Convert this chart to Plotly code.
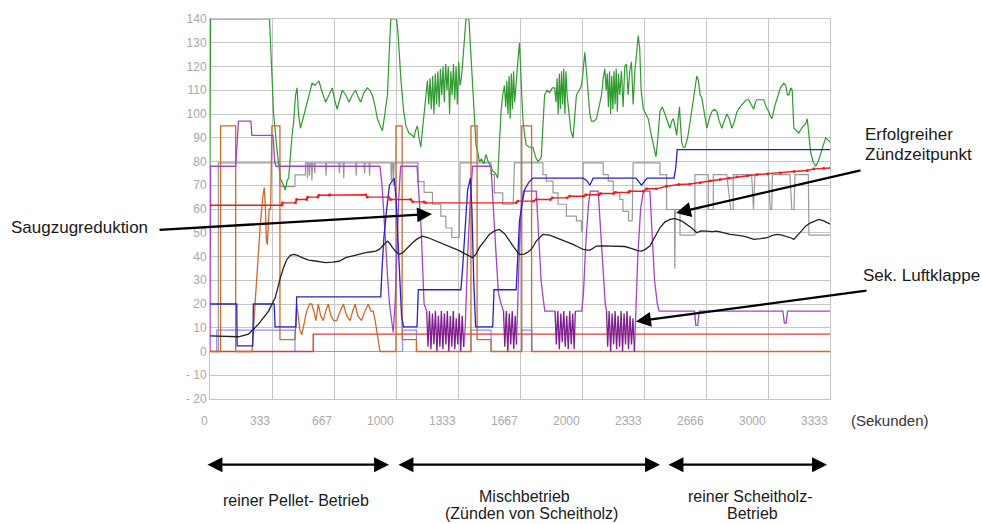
import plotly.graph_objects as go

# ---------------- data (seconds, value) ----------------
x_tick_vals = [0, 333.33, 666.67, 1000, 1333.33, 1666.67, 2000, 2333.33, 2666.67, 3000, 3333.33]
x_tick_text = ["0", "333", "667", "1000", "1333", "1667", "2000", "2333", "2666", "3000", "3333"]
y_tick_vals = [-20, -10, 0, 10, 20, 30, 40, 50, 60, 70, 80, 90, 100, 110, 120, 130, 140]
y_tick_text = ["- 20", "- 10", "0", "10", "20", "30", "40", "50", "60", "70", "80", "90", "100", "110", "120", "130", "140"]

green = [(0,78),(3,140),(320,140),(342,100),(360,85),(378,73),(395,70),(405,68),(415,72),(423,73),(440,90),(450,97),(460,108),(468,111),(476,100),(486,94),(500,98),(513,102),(530,108),(549,113),(565,112),(585,114),(600,110),(621,105),(640,108),(657,111),(670,106),(684,102),(697,106),(711,110),(730,108),(747,105),(765,108),(783,110),(797,107),(810,105),(828,109),(846,111),(860,110),(873,108),(888,103),(900,98),(915,95),(927,93),(940,100),(954,108),(963,125),(972,140),(1003,140),(1010,135),(1026,115),(1040,102),(1053,95),(1070,92),(1089,91),(1097,90),(1105,93),(1115,95),(1124,90),(1133,86),(1142,93),(1151,101),(1160,108),(1169,114),(1176,104),(1183,115),(1190,102),(1197,116),(1204,100),(1211,117),(1218,104),(1225,118),(1232,103),(1239,119),(1246,108),(1253,120),(1260,105),(1267,121),(1274,110),(1281,120),(1288,100),(1295,118),(1302,108),(1309,121),(1316,106),(1323,120),(1330,104),(1337,122),(1344,112),(1351,115),(1358,121),(1366,130),(1376,140),(1392,140),(1403,125),(1412,111),(1421,98),(1430,87),(1440,84),(1448,80),(1460,81),(1472,79),(1484,83),(1495,80),(1508,78),(1520,76),(1535,75),(1547,73),(1556,88),(1565,101),(1574,108),(1583,112),(1590,103),(1596,114),(1602,100),(1608,116),(1614,98),(1620,117),(1626,102),(1632,118),(1638,105),(1646,115),(1655,122),(1664,130),(1672,115),(1682,98),(1690,92),(1700,87),(1718,86),(1736,86),(1750,82),(1763,80),(1775,81),(1781,82),(1790,95),(1799,108),(1812,110),(1826,109),(1840,111),(1853,111),(1860,105),(1866,115),(1872,100),(1878,117),(1884,102),(1890,118),(1896,104),(1902,119),(1908,100),(1914,118),(1920,108),(1930,100),(1940,93),(1952,90),(1960,100),(1970,108),(1985,110),(1997,112),(2006,118),(2015,126),(2024,118),(2033,108),(2042,100),(2051,97),(2065,97),(2078,98),(2090,102),(2105,108),(2114,115),(2123,119),(2130,110),(2136,117),(2142,103),(2148,118),(2154,100),(2160,116),(2166,102),(2172,118),(2178,104),(2184,119),(2190,101),(2196,117),(2203,108),(2212,118),(2221,103),(2230,120),(2239,121),(2248,108),(2257,118),(2266,122),(2275,104),(2284,118),(2293,125),(2302,133),(2310,128),(2318,110),(2330,102),(2343,100),(2356,98),(2370,92),(2383,87),(2392,83),(2398,82),(2408,90),(2419,101),(2432,103),(2446,100),(2460,97),(2473,94),(2482,97),(2491,98),(2500,95),(2509,91),(2517,98),(2524,103),(2530,95),(2536,88),(2545,86),(2554,86),(2568,90),(2581,96),(2595,104),(2606,110),(2617,116),(2626,114),(2635,108),(2644,107),(2658,100),(2671,94),(2684,98),(2698,101),(2712,102),(2725,101),(2738,97),(2752,94),(2765,97),(2779,100),(2792,98),(2806,94),(2820,97),(2833,101),(2850,103),(2869,105),(2883,106),(2896,106),(2910,104),(2923,102),(2932,105),(2941,106),(2960,106),(2977,106),(2990,103),(3004,101),(3013,99),(3022,98),(3035,103),(3049,107),(3067,111),(3085,113),(3095,112),(3105,108),(3112,108),(3122,111),(3130,110),(3139,94),(3152,93),(3166,92),(3180,94),(3193,95),(3203,96),(3211,98),(3220,90),(3229,84),(3242,80),(3256,78),(3270,80),(3283,83),(3297,87),(3310,90),(3323,89),(3337,88)]

purple = [(0,0),(3,78),(138,78),(145,88),(153,97),(220,97),(225,91),(339,91),(348,80),(355,78),(914,78),(925,70),(935,59),(945,45),(955,31),(965,20),(975,14),(985,8),(995,20),(1005,45),(1015,65),(1025,78),(1113,78),(1124,65),(1135,52),(1151,20),(1165,17),(None,None),
          (1364,2),(1372,10),(1385,40),(1400,65),(1412,78),(1511,78),(1520,65),(1535,45),(1550,25),(1565,20),(1578,17),(None,None),
          (1648,3),(1655,25),(1664,45),(1675,62),(1685,67.5),(1754,67.5),(1765,50),(1780,30),(1795,20),(1800,17),(1855,17),(None,None),
          (1964,17),(1999,17),(2008,25),(2020,45),(2035,62),(2045,67.5),(2087,67.5),(2100,50),(2115,30),(2125,20),(2132,17),(None,None),
          (2282,0),(2290,15),(2300,40),(2315,60),(2330,67.5),(2365,67.5),(2375,50),(2390,30),(2405,20),(2415,17),(2605,17),(2612,11),(2622,11),(2630,17),(3080,17),(3088,12),(3098,12),(3105,17),(3337,17)]

purple_osc_t = [1165,1172,1180,1188,1196,1204,1212,1220,1228,1236,1244,1252,1260,1268,1276,1284,1292,1300,1308,1316,1324,1332,1340,1348,1356,1364, None,
                1578,1585,1593,1601,1609,1617,1625,1633,1641,1648, None,
                1855,1862,1870,1878,1886,1894,1902,1910,1918,1926,1934,1942,1950,1958,1964, None,
                2132,2138,2146,2154,2162,2170,2178,2186,2194,2202,2210,2218,2226,2234,2242,2250,2258,2266,2274,2282]
purple_osc_v = [17,2,17,1,16,3,17,0,15,2,17,1,16,3,17,0,15,2,17,1,14,3,16,0,15,2, None,
                17,2,17,0,16,3,17,1,15,3, None,
                17,3,17,1,16,4,17,2,15,1,17,3,16,1,17, None,
                17,2,17,0,16,3,17,1,15,2,17,0,16,3,17,1,15,3,14,0]

orange = [(0,0),(57,0),(57,95),(138,95),(138,0),(226,0),(238,15),(250,30),(262,45),(272,55),(285,66),(292,69),(298,60),(303,47),(308,45),(313,52),(318,60),(326,60),(333,95),(376,95),(376,5),(457,5),(466,20),(476,14),(483,9),(493,7),(505,12),(520,17),(535,20),(547,20),(558,17),(570,13),(582,20),(595,15),(609,13),(622,17),(636,20),(650,15),(665,13),(681,13),(700,17),(717,20),(735,15),(753,13),(767,17),(780,20),(795,15),(815,13),(833,17),(851,20),(865,17),(878,17),(890,12),(905,5),(914,0),(1000,0),(1000,95),(1033,95),(1033,5),(1110,5),(1110,0),(1403,0),(1403,95),(1436,95),(1436,5),(1511,5),(1511,0),(1676,0),(1676,95),(1729,95),(1729,0),(3337,0)]

gray = [(0,0),(45,0),(45,79.4),(376,79.4),(376,69.4),(457,69.4),(457,74.4),(513,74.4),(513,79.4),(522,79.4),(524,73),(527,79.4),(532,79.4),(535,74),(538,79.4),(545,79.4),(548,72),(551,79.4),(560,79.4),(563,75),(566,79.4),(621,79.4),(624,74),(627,79.4),(693,79.4),(696,75),(699,79.4),(716,79.4),(719,73),(722,79.4),(783,79.4),(786,74),(789,79.4),(828,79.4),(831,75),(834,79.4),(855,79.4),(858,74),(861,79.4),(972,79.4),(975,72),(978,79.4),(983,79.4),(986,70),(990,79.4),(1119,79.4),(1119,71.5),(1151,71.5),(1151,67),(1196,67),(1196,62),(1241,62),(1241,57),(1268,57),(1268,52),(1300,52),(1300,48),(1340,48),(1345,79.4),(1511,79.4),(1511,74.5),(1529,74.5),(1529,66.8),(1574,66.8),(1574,62),(1630,62),(1637,79.4),(1790,79.4),(1790,74.5),(1808,74.5),(1808,71.7),(1844,71.7),(1844,66.8),(1871,66.8),(1871,62),(1916,62),(1916,57),(1970,57),(1970,55),(1997,55),(1997,50.7),(2003,50.7),(2006,79.4),(2114,79.4),(2114,74.5),(2141,74.5),(2141,71.7),(2168,71.7),(2168,66.8),(2203,66.8),(2203,64),(2220,64),(2220,59),(2250,59),(2250,55),(2270,55),(2275,79.4),(2419,79.4),(2419,74.5),(2455,74.5),(2455,59.8),(2497,59.8),(2499,35),(2502,59.8),(2527,59.8),(2527,49),(2607,49),(2607,74.5),(2679,74.5),(2679,59.8),(2706,59.8),(2706,74.5),(2778,74.5),(2800,59.8),(2813,59.8),(2813,74.5),(2912,74.5),(2922,59.8),(2930,74.5),(3002,74.5),(3012,59.8),(3020,59.8),(3024,74.5),(3118,74.5),(3128,59.8),(3140,59.8),(3145,74.5),(3217,74.5),(3220,49),(3337,49)]

black = [(0,6.6),(60,6.4),(153,6.2),(207,7.3),(261,11.5),(315,17),(351,22.7),(378,31),(396,35.5),(414,38.8),(432,40.5),(450,40.9),(470,40.5),(495,39.5),(530,38.5),(567,38.1),(621,37.4),(660,37.6),(693,38),(730,39.5),(765,40.2),(800,41),(837,41.6),(870,42),(891,42.3),(910,43),(927,44.4),(940,45.5),(954,46.5),(967,45.5),(981,43.7),(1000,42),(1017,40.9),(1035,41.5),(1053,43),(1070,44.5),(1089,45.8),(1110,47.2),(1125,47.9),(1142,48.6),(1170,48),(1214,46.5),(1260,45),(1304,43.7),(1340,42.5),(1376,40.9),(1395,40),(1412,39.5),(1430,41),(1448,43.7),(1475,46.5),(1502,49.3),(1530,50.8),(1556,51.4),(1585,49.5),(1610,46.5),(1637,43.5),(1664,40.9),(1690,41),(1718,42.3),(1736,44),(1754,46.5),(1772,48),(1790,49.3),(1826,49),(1862,47.9),(1900,46.8),(1952,45.1),(1980,44),(2006,43),(2042,42.6),(2060,43.5),(2078,44.4),(2110,44.5),(2150,44.4),(2190,44.4),(2231,44.2),(2260,43.5),(2275,43),(2300,42.5),(2320,42.3),(2340,43),(2365,44.4),(2390,48),(2419,52.1),(2445,54.5),(2473,55.6),(2500,56),(2518,55.6),(2540,54.8),(2563,53.5),(2590,52),(2617,50),(2640,50.8),(2671,50.7),(2700,50.5),(2725,50.7),(2760,50),(2797,49.3),(2830,49),(2869,48.6),(2900,47.8),(2923,47.2),(2960,47.5),(2995,47.9),(3020,48.8),(3049,49.3),(3075,49),(3103,48.5),(3125,47.8),(3139,47.2),(3160,49),(3184,51.4),(3205,53),(3229,54.2),(3250,55),(3274,55.6),(3300,55),(3320,54),(3337,53.5)]

blue = [(0,20),(144,20),(146,2.4),(230,2.4),(233,20),(345,20),(350,10.4),(462,10.4),(466,23),(918,23),(925,35),(935,48),(950,60),(965,70),(981,72),(990,73),(1000,65),(1010,50),(1020,30),(1030,15),(1040,10.4),(1113,10.4),(1120,26),(1349,26),(1358,35),(1370,50),(1385,68),(1400,73),(1408,60),(1418,30),(1428,10.4),(1520,10.4),(1527,26),(1646,26),(1655,40),(1664,55),(1678,62),(1691,68),(1712,71),(1736,73),(2006,73),(2025,72),(2042,70),(2060,73),(2290,73),(2320,70),(2350,73),(2495,73),(2505,78),(2512,85),(3337,85)]

red_top = [(0,61.6),(387,61.6),(390,62.6),(460,62.6),(465,64),(520,64),(525,65),(580,65),(585,65.8),(640,65.8),(645,66),(837,66),(845,65),(960,65),(970,64),(1080,64),(1090,63),(1150,63),(1160,62.6),(1646,62.6),(1655,63.3),(1740,63.3),(1754,64),(1830,64),(1840,64.7),(1920,64.7),(1934,65.4),(2010,65.4),(2020,66),(2090,66),(2100,66.5),(2170,66.5),(2180,67),(2250,67),(2257,67.5),(2330,67.5),(2347,68.5),(2400,68.5),(2455,69.6),(2520,70.3),(2580,70.5),(2635,71),(2690,71.8),(2743,72.4),(2790,73),(2833,73.5),(2890,74),(2941,74.5),(3000,74.8),(3067,75.2),(3140,75.8),(3211,76.2),(3247,76.9),(3300,77.1),(3337,77.3)]

red_low = [(0,0),(555,0),(555,7.3),(3337,7.3)]

lightblue = [(0,0),(36,0),(36,9),(457,9),(457,0),(1035,0),(1035,9),(1110,9),(1110,0),(1403,0),(1403,9),(1511,9),(1511,0),(1676,0),(1676,9),(1731,9),(1731,0),(3337,0)]

# ---------------- figure ----------------
def xs(pairs): return [p[0] for p in pairs]
def ys(pairs): return [p[1] for p in pairs]

fig = go.Figure()

def add(pairs, color, width=1.2, mode="lines", msize=0):
    fig.add_trace(go.Scatter(x=xs(pairs), y=ys(pairs), mode=mode, connectgaps=False,
                             line=dict(color=color, width=width),
                             marker=dict(size=msize, color=color, symbol="square"),
                             hoverinfo="skip", showlegend=False))

add(gray, "#9a9a9a")
add(lightblue, "#8c8cff")
add(red_low, "#e23a3a", 1.4)
add(green, "#2f9a2f", 1.2)
add(orange, "#cc6a2a", 1.3)
add(purple, "#a345c4", 1.3)
fig.add_trace(go.Scatter(x=purple_osc_t, y=purple_osc_v, mode="lines", connectgaps=False,
                         line=dict(color="#7d1f8e", width=1.3), hoverinfo="skip", showlegend=False))
add(blue, "#2424c0", 1.3)
add(red_top, "#f01c1c", 1.4, "lines+markers", 2.5)
add(black, "#222222", 1.3)

# pixel helpers for annotation placement (plot area: x 210..830, y 17..399)
def pxx(px): return (px - 210) / 620.0
def pxy(py): return (399 - py) / 382.0

ann = []
for v, t in zip(x_tick_vals, x_tick_text):
    ann.append(dict(x=v, xref="x", y=pxy(421), yref="paper", text=t, showarrow=False,
                    xanchor="right", yanchor="middle", font=dict(size=12, color="#aaaaaa")))
ann.append(dict(x=pxx(849), xref="paper", y=pxy(421), yref="paper", text="(Sekunden)", showarrow=False,
                xanchor="left", yanchor="middle", font=dict(size=15, color="#333333")))

def text(px, py, t, anchor="left", size=17):
    ann.append(dict(x=pxx(px), y=pxy(py), xref="paper", yref="paper", text=t, showarrow=False,
                    xanchor=anchor, yanchor="middle", borderpad=0,
                    font=dict(size=size, color="#1a1a1a")))

def arrow(tx, ty, hx, hy, both=False):
    ann.append(dict(x=pxx(hx), y=pxy(hy), xref="paper", yref="paper", axref="pixel", ayref="pixel",
                    ax=tx - hx, ay=ty - hy, text="", showarrow=True, arrowhead=2,
                    arrowside="end+start" if both else "end", arrowsize=1.3, arrowwidth=2.3,
                    arrowcolor="#000000", standoff=0, startstandoff=0))

text(10, 227, "Saugzugreduktion")
arrow(158, 229, 432, 213)
text(864, 133, "Erfolgreiher")
text(864, 153, "Zündzeitpunkt")
arrow(862, 169, 676, 212)
text(862, 275, "Sek. Luftklappe")
arrow(868, 290, 636, 321)

arrow(206, 465, 389, 465, both=True)
arrow(397, 465, 660, 465, both=True)
arrow(667, 465, 827, 465, both=True)
text(296, 501, "reiner Pellet- Betrieb", "center", 16)
text(524, 497, "Mischbetrieb", "center", 16)
text(531, 514, "(Zünden von Scheitholz)", "center", 16)
text(750, 497, "reiner Scheitholz-", "center", 16)
text(752, 514, "Betrieb", "center", 16)

fig.update_layout(
    width=982, height=524,
    margin=dict(l=210, r=152, t=17, b=125),
    paper_bgcolor="white", plot_bgcolor="white",
    font=dict(family="Liberation Sans, Arial, sans-serif"),
    annotations=ann,
    xaxis=dict(range=[0, 3333.33], tickvals=x_tick_vals, showticklabels=False,
               showgrid=True, gridcolor="#c6c6c6", gridwidth=1, zeroline=False,
               showline=True, linecolor="#c6c6c6", mirror=True, ticks=""),
    yaxis=dict(range=[-20, 140], tickvals=y_tick_vals, ticktext=y_tick_text,
               tickfont=dict(size=12, color="#a8a8a8"),
               showgrid=True, gridcolor="#c6c6c6", gridwidth=1, zeroline=False,
               showline=True, linecolor="#c6c6c6", mirror=True, ticks=""),
)

fig.write_html("out.html")
